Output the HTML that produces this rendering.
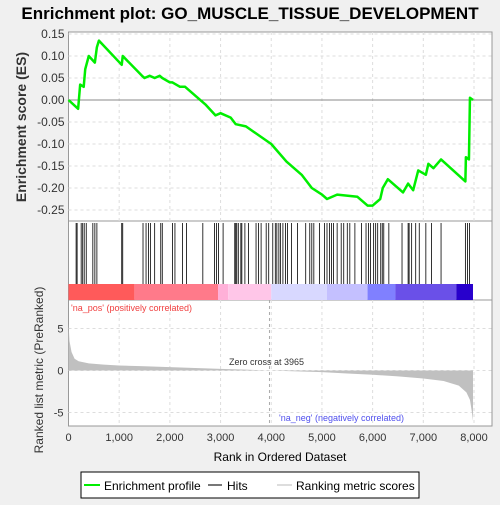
<!DOCTYPE html>
<html><head><meta charset="utf-8"><style>
body{margin:0;background:#f0f0f0;font-family:"Liberation Sans",sans-serif}
svg text{font-family:"Liberation Sans",sans-serif}
</style></head><body>
<svg id="c" width="500" height="500" xmlns="http://www.w3.org/2000/svg">
<rect width="500" height="500" fill="#f0f0f0"/>
<text x="250" y="19" text-anchor="middle" font-size="17" font-weight="bold" fill="#000">Enrichment plot: GO_MUSCLE_TISSUE_DEVELOPMENT</text>
<g id="g"></g>
</svg>
<script>
const esRanks=[0,190,230,300,330,400,520,560,600,1050,1070,1450,1500,1600,1700,1800,1850,2000,2050,2200,2300,2700,2900,3000,3200,3300,3500,4000,4300,4600,4800,5000,5100,5300,5700,5900,6000,6150,6200,6300,6600,6700,6800,6900,7050,7100,7200,7350,7830,7840,7900,7920,7980];
const esValues=[0,-0.02,0.035,0.03,0.07,0.10,0.085,0.12,0.135,0.08,0.10,0.055,0.05,0.055,0.05,0.055,0.05,0.04,0.04,0.03,0.03,-0.01,-0.035,-0.03,-0.04,-0.055,-0.06,-0.10,-0.14,-0.17,-0.20,-0.215,-0.225,-0.215,-0.22,-0.24,-0.24,-0.225,-0.20,-0.18,-0.21,-0.19,-0.205,-0.16,-0.17,-0.145,-0.155,-0.135,-0.185,-0.13,-0.135,0.005,0.0];
const hitRanks=[150,170,250,280,310,350,480,520,560,1050,1070,1470,1530,1580,1620,1700,1820,1850,2050,2100,2250,2330,2650,2880,2920,2960,3050,3280,3300,3320,3350,3400,3420,3480,3550,3700,3750,3800,3900,3950,4030,4080,4110,4150,4180,4230,4280,4320,4400,4520,4680,4760,4800,4840,4950,5050,5100,5150,5190,5230,5300,5380,5430,5500,5550,5650,5780,5870,5920,5960,6020,6060,6100,6160,6190,6220,6320,6580,6700,6720,6770,6850,6920,7050,7160,7350,7830,7870,7910];
const metricRanks=[0,20,60,120,200,400,700,1000,1500,2000,2500,3000,3500,3965,4500,5000,5500,6000,6500,7000,7400,7700,7850,7920,7960,7980];
const metricValues=[5.6,3.5,2.2,1.4,1.1,0.85,0.7,0.6,0.5,0.4,0.3,0.2,0.1,0,-0.1,-0.2,-0.35,-0.5,-0.7,-0.95,-1.25,-1.8,-2.6,-3.5,-5,-6];
const esTicks=[0.15,0.10,0.05,0.00,-0.05,-0.10,-0.15,-0.20,-0.25];
const metricTicks=[5,0,-5];
const rankTicks=[0,1000,2000,3000,4000,5000,6000,7000,8000];
const NS="http://www.w3.org/2000/svg";
const g=document.getElementById('g');
const L=68.5,R=492;
const X=r=>L+r*(474-68.5)/8000;
const YE=v=>100-v*440;
const YM=v=>370.5-v*8.4;
function el(t,a,txt){const e=document.createElementNS(NS,t);for(const k in a)e.setAttribute(k,a[k]);if(txt!==undefined)e.textContent=txt;g.appendChild(e);return e;}
// panels
let p=el('rect',{x:L,y:32,width:R-L,height:189,fill:'#fff',stroke:'#999'});

p=el('rect',{x:L,y:221,width:R-L,height:79,fill:'#fff',stroke:'#999'});

p=el('rect',{x:L,y:300,width:R-L,height:126,fill:'#fff',stroke:'#999'});

// grid
rankTicks.forEach(r=>{if(r===0)return;
 let l=el('line',{x1:X(r),x2:X(r),y1:32,y2:221,stroke:'#ddd','stroke-dasharray':'3,3'});
 l=el('line',{x1:X(r),x2:X(r),y1:300,y2:426,stroke:'#ddd','stroke-dasharray':'3,3'});
 const t=el('text',{x:X(r),y:441,'text-anchor':'middle','font-size':11,fill:'#333'},r===0?'0':r.toLocaleString('en-US'));
 
});
let t0=el('text',{x:X(0),y:441,'text-anchor':'middle','font-size':11,fill:'#333'},'0');
esTicks.forEach(v=>{
 const l=el('line',{x1:L,x2:R,y1:YE(v),y2:YE(v),stroke:v===0?'#888':'#ddd','stroke-dasharray':v===0?'':'3,3'});
 
 const t=el('text',{x:L-4,y:YE(v)+4,'text-anchor':'end','font-size':12,fill:'#333'},v.toFixed(2));
 
});
metricTicks.forEach(v=>{
 const l=el('line',{x1:L,x2:R,y1:YM(v),y2:YM(v),stroke:'#ddd','stroke-dasharray':'3,3'});
 
 const t=el('text',{x:L-5,y:YM(v)+4,'text-anchor':'end','font-size':11,fill:'#333'},String(v));
 
});
// color bar
const cb=[[0,1300,'#ff5a5a'],[1300,2950,'#ff7a8a'],[2950,3150,'#ffb0d8'],[3150,4000,'#ffc6e8'],[4000,5100,'#d8d8ff'],[5100,5900,'#c4c0ff'],[5900,6450,'#8080ff'],[6450,7650,'#6a50e8'],[7650,7980,'#2800cc']];
cb.forEach(s=>{const r=el('rect',{x:X(s[0]),y:284,width:X(s[1])-X(s[0]),height:16,fill:s[2]});});
// hits
hitRanks.forEach(r=>{const l=el('line',{x1:X(r),x2:X(r),y1:223,y2:284,stroke:'#000','stroke-width':0.8});});
// metric area
let d='M'+X(0)+','+YM(0);
metricRanks.forEach((r,i)=>d+=' L'+X(r)+','+YM(metricValues[i]));
d+=' L'+X(metricRanks[metricRanks.length-1])+','+YM(0)+' Z';
let a=el('path',{d:d,fill:'#c0c0c0'});
let zl=el('line',{x1:X(3965),x2:X(3965),y1:300,y2:426,stroke:'#aaa','stroke-dasharray':'3,3'});
// ES line
let pts=esRanks.map((r,i)=>X(r)+','+YE(esValues[i])).join(' ');
let es=el('polyline',{points:pts,fill:'none',stroke:'#00ee00','stroke-width':2.5,'stroke-linejoin':'round'});

// labels
const labs=[[71,311,'start',9,'#f04040',"'na_pos' (positively correlated)",'pos-label'],[229,365,'start',9,'#333','Zero cross at 3965','zero-cross-label'],[279,421,'start',9,'#5050ee',"'na_neg' (negatively correlated)",'neg-label'],[280,461,'middle',12,'#000','Rank in Ordered Dataset','x-axis-title']];
labs.forEach(s=>{const t=el('text',{x:s[0],y:s[1],'text-anchor':s[2],'font-size':s[3],fill:s[4]},s[5]);});
let yt=el('text',{x:0,y:0,'text-anchor':'middle','font-size':14,'font-weight':'bold',fill:'#333',transform:'translate(26,127) rotate(-90)'},'Enrichment score (ES)');

yt=el('text',{x:0,y:0,'text-anchor':'middle','font-size':12,fill:'#333',transform:'translate(43,370) rotate(-90)'},'Ranked list metric (PreRanked)');

// legend
let lg=el('rect',{x:81,y:472,width:338,height:26,fill:'#fff',stroke:'#000'});
const le=[[84,100,'#00ee00',104,'Enrichment profile','legend-enrichment'],[208,222,'#777',227,'Hits','legend-hits'],[277,292,'#ddd',296,'Ranking metric scores','legend-metric']];
le.forEach(s=>{let l=el('line',{x1:s[0],x2:s[1],y1:485,y2:485,stroke:s[2],'stroke-width':2});
 let t=el('text',{x:s[3],y:490,'font-size':12,fill:'#000'},s[4]);});
</script>
</body></html>
